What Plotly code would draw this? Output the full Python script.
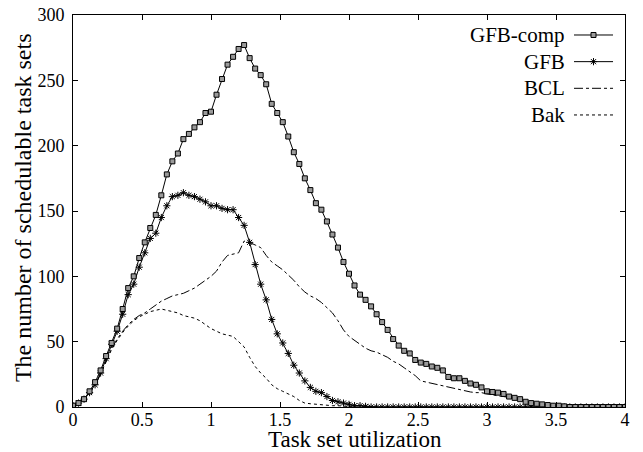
import numpy as np
import plotly.graph_objects as go

# x grid: task set utilization, step 0.04 from 0 to 4
utilization = np.round(np.arange(101) * 0.04, 2)

gfb_comp = [1, 3, 6, 12, 19, 28, 39, 49, 60, 75, 91, 100, 114, 126, 137, 147, 162,
            178, 188, 194, 205, 209, 214, 218, 225, 226, 239, 251, 262, 268, 274, 277,
            267, 259, 254, 247, 232, 225, 218, 207, 195, 186, 175, 166, 156, 151, 142,
            132, 122, 111, 102, 93, 86, 82, 77, 71, 65, 59, 52, 47, 43, 41, 36, 34, 33,
            31, 30, 28, 23, 22, 22, 20, 18, 17, 15, 12, 11.5, 11, 10, 8, 7, 6, 4, 3,
            2.5, 2, 1.5, 1, 1, 0.5,
            0, 0, 0, 0, 0, 0, 0, 0, 0, 0, 0]

gfb = [1, 3, 6, 11, 17, 26, 37, 48, 58, 71, 86, 94, 107, 118, 129, 133, 145, 154,
       161, 162, 164, 162, 161, 159, 157, 154, 154, 152, 151, 151, 145, 139, 126, 109,
       94, 82, 67, 56, 49, 41, 32, 26, 20, 15, 12, 11, 8, 5, 4, 3, 2, 1, 1, 0.5] + [0] * 47

bcl = [1, 3, 6, 11, 17, 25, 35, 45, 52, 58, 63, 67, 70, 72, 75, 78, 81, 83, 85, 86,
       87, 89, 91, 94, 97, 100, 104, 111, 116, 117, 118, 127, 126, 124, 122, 116, 111,
       108, 105, 101, 97, 92, 88, 85, 83, 80, 76, 72, 66, 59, 54, 51, 48, 45, 43, 42,
       40, 38, 35, 33, 30, 27, 24, 20, 19, 18, 17, 16, 15, 14, 13.5, 12.5, 11.5, 11,
       11, 10, 9, 8.5, 8, 7.5, 6.5, 5.5, 4, 2.5, 1.5, 1, 0.5] + [0] * 14

bak = [1, 3, 6, 11, 17, 25, 35, 44, 51, 57, 62, 66, 69, 71, 73, 74, 75, 74, 73, 72,
       70, 69, 68, 66, 63, 60, 58, 56, 55, 54, 50, 46, 38, 31, 26, 22, 17, 14, 12, 10,
       8, 5, 3, 2.5, 2, 1.5, 1.5, 1, 1, 0.5] + [0] * 51

for s in (gfb_comp, gfb, bcl, bak):
    assert len(s) == len(utilization), len(s)

series_names = ["GFB-comp", "GFB", "BCL", "Bak"]
x_ticks = [0, 0.5, 1, 1.5, 2, 2.5, 3, 3.5, 4]
x_tick_text = ["0", "0.5", "1", "1.5", "2", "2.5", "3", "3.5", "4"]
y_ticks = [0, 50, 100, 150, 200, 250, 300]

FONT = "Liberation Serif, DejaVu Serif, serif"

sq_marker = dict(symbol="square", size=5, color="#9a9a9a",
                 line=dict(color="black", width=1))
star_marker = dict(symbol="asterisk-open", size=6, color="black",
                   line=dict(color="black", width=1))

fig = go.Figure()
fig.add_trace(go.Scatter(x=utilization, y=bak, mode="lines",
                         line=dict(color="black", width=1, dash="dot"), name="Bak"))
fig.add_trace(go.Scatter(x=utilization, y=bcl, mode="lines",
                         line=dict(color="black", width=1, dash="dashdot"), name="BCL"))
fig.add_trace(go.Scatter(x=utilization, y=gfb, mode="lines+markers",
                         line=dict(color="black", width=1), marker=star_marker,
                         name="GFB"))
fig.add_trace(go.Scatter(x=utilization, y=gfb_comp, mode="lines+markers",
                         line=dict(color="black", width=1), marker=sq_marker,
                         name="GFB-comp"))

# custom gnuplot-style legend (text left of sample) on an overlay [0,1] axis
leg_rows = [0.949, 0.881, 0.813, 0.745]
leg_x0, leg_x1 = 0.9076, 0.9783
leg_styles = [("solid", sq_marker), ("solid", star_marker),
              ("dashdot", None), ("dot", None)]
for name, yy, (dash, mk) in zip(series_names, leg_rows, leg_styles):
    fig.add_trace(go.Scatter(x=[leg_x0, leg_x1], y=[yy, yy], mode="lines",
                             line=dict(color="black", width=1, dash=dash),
                             xaxis="x2", yaxis="y2", hoverinfo="skip"))
    if mk is not None:
        fig.add_trace(go.Scatter(x=[(leg_x0 + leg_x1) / 2], y=[yy], mode="markers",
                                 marker=mk, xaxis="x2", yaxis="y2", hoverinfo="skip"))
    fig.add_annotation(x=0.895, y=yy, xref="paper", yref="paper", text=name,
                       showarrow=False, xanchor="right", yanchor="middle",
                       font=dict(family=FONT, size=21, color="black"))

# axis titles
fig.add_annotation(x=0.511, y=-0.084, xref="paper", yref="paper",
                   text="Task set utilization", showarrow=False,
                   xanchor="center", yanchor="middle",
                   font=dict(family=FONT, size=23, color="black"))
fig.add_annotation(x=-0.0906, y=0.51, xref="paper", yref="paper",
                   text="The number of schedulable task sets", showarrow=False,
                   textangle=-90, xanchor="center", yanchor="middle",
                   font=dict(family=FONT, size=24, color="black"))

axis_common = dict(showline=True, linecolor="black", linewidth=1, mirror="ticks",
                   ticks="inside", ticklen=5, tickcolor="black", tickwidth=1,
                   showgrid=False, zeroline=False, automargin=False,
                   ticklabeloverflow="allow",
                   tickfont=dict(family=FONT, size=18, color="black"))

# page body has an 8px default margin, so the figure is sized/offset to fit
fig.update_layout(
    width=635, height=444,
    margin=dict(l=65, r=18, t=7, b=45),
    paper_bgcolor="white", plot_bgcolor="white",
    showlegend=False,
    font=dict(family=FONT, color="black"),
    xaxis=dict(range=[0, 4], tickvals=x_ticks, ticktext=x_tick_text,
               ticklabelstandoff=-4, **axis_common),
    yaxis=dict(range=[0, 300], tickvals=y_ticks, ticklabelstandoff=4,
               **axis_common),
    xaxis2=dict(overlaying="x", range=[0, 1], visible=False, anchor="y2"),
    yaxis2=dict(overlaying="y", range=[0, 1], visible=False, anchor="x2"),
)

fig.write_html("out.html")
